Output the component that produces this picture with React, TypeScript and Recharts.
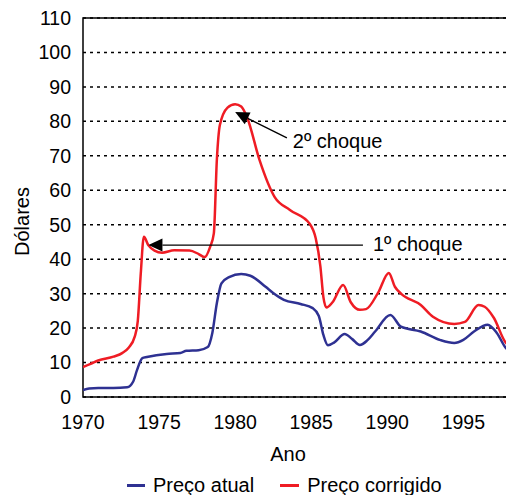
import React from 'react';
import {
  LineChart, Line, XAxis, YAxis, CartesianGrid, ReferenceArea, ReferenceLine,
} from 'recharts';

const FONT = '"Liberation Sans", Arial, Helvetica, sans-serif';

// Preço atual (nominal)
const atualYears = [
  1970.0, 1970.4, 1971.0, 1972.0, 1972.9, 1973.3, 1973.55, 1973.9, 1974.2, 1975.5,
  1976.4, 1976.8, 1977.6, 1978.2, 1978.5, 1978.8, 1979.1, 1979.6, 1980.4, 1981.0,
  1982.0, 1982.5, 1983.2, 1984.3, 1985.1, 1985.5, 1985.8, 1986.1, 1986.5, 1987.2,
  1987.7, 1988.2, 1988.7, 1989.2, 1990.2, 1990.9, 1992.2, 1993.5, 1994.4, 1995.0,
  1995.7, 1996.6, 1997.2, 1997.8, 1998.0,
];
const atualValues = [
  2.0, 2.5, 2.6, 2.6, 2.8, 4.5, 7.8, 11.3, 11.6, 12.5,
  12.8, 13.4, 13.6, 14.5, 18.6, 27.3, 33.0, 34.8, 35.7, 35.2,
  32.0, 30.2, 28.2, 27.0, 25.8, 23.5, 18.0, 15.0, 15.8, 18.3,
  16.8, 15.1, 16.5, 19.0, 23.8, 20.4, 19.0, 16.5, 15.7, 16.6,
  19.0, 21.0, 18.6, 14.2, 13.5,
];

// Preço corrigido (real)
const corrigidoYears = [
  1970.0, 1970.5, 1971.0, 1972.0, 1972.6, 1973.0, 1973.4, 1973.6, 1973.8, 1974.0,
  1974.3, 1974.7, 1975.2, 1976.0, 1977.0, 1977.6, 1978.0, 1978.35, 1978.6, 1978.8,
  1979.0, 1979.5, 1980.0, 1980.4, 1980.8, 1981.6, 1982.6, 1983.6, 1984.9, 1985.3,
  1985.6, 1985.8, 1986.0, 1986.4, 1987.1, 1987.6, 1988.2, 1988.6, 1989.4, 1990.1,
  1990.5, 1990.9, 1992.2, 1993.0, 1994.4, 1995.1, 1996.0, 1996.4, 1997.0, 1997.8,
  1998.0,
];
const corrigidoValues = [
  8.7, 9.6, 10.6, 11.7, 12.8, 14.3, 17.5, 22.0, 36.0, 46.5,
  44.0, 42.5, 41.9, 42.6, 42.5, 41.5, 40.6, 43.5, 47.5, 69.0,
  79.0, 84.0, 85.0, 84.3, 81.0, 68.8, 58.0, 54.3, 50.3, 46.0,
  38.0, 29.0, 26.0, 27.5, 32.5, 27.5, 25.3, 25.5, 30.3, 36.0,
  32.0, 30.0, 26.7, 23.3, 21.2, 21.8, 26.7, 26.2, 23.0, 15.7,
  15.0,
];

const xTicks = [1970, 1975, 1980, 1985, 1990, 1995];
const yTicks = [0, 10, 20, 30, 40, 50, 60, 70, 80, 90, 100, 110];

// annotation arrows: tip -> tail, in data units
const choqueLabels = ['1º choque', '2º choque'];
const choqueTips = [{ x: 1974.3, y: 44.1 }, { x: 1980.0, y: 82.7 }];
const choqueTails = [{ x: 1988.4, y: 44.1 }, { x: 1983.4, y: 75.2 }];
const choqueTextShift = [{ dx: 10, dy: 6 }, { dx: 6, dy: 10 }];

const atualData = atualYears.map((year, i) => ({ year, value: atualValues[i] }));
const corrigidoData = corrigidoYears.map((year, i) => ({ year, value: corrigidoValues[i] }));

const BLUE = '#2e3192';
const RED = '#ef1c24';

function arrowShape(text: string, dx: number, dy: number) {
  return (p: any) => {
    const { x1, y1, x2, y2 } = p;
    const ang = Math.atan2(y2 - y1, x2 - x1);
    const len = 14;
    const half = 6.5;
    const bx = x1 + Math.cos(ang) * len;
    const by = y1 + Math.sin(ang) * len;
    const px = -Math.sin(ang) * half;
    const py = Math.cos(ang) * half;
    return (
      <g>
        <line x1={bx} y1={by} x2={x2} y2={y2} stroke="#000" strokeWidth={1.3} />
        <polygon points={`${x1},${y1} ${bx + px},${by + py} ${bx - px},${by - py}`} fill="#000" />
        <text x={x2 + dx} y={y2 + dy} fontSize={20} fontFamily={FONT} fill="#000">{text}</text>
      </g>
    );
  };
}

function YLabel(props: any) {
  const { viewBox } = props;
  const cx = viewBox.x + 22;
  const cy = viewBox.y + viewBox.height / 2 + 14;
  return (
    <text x={cx} y={cy} transform={`rotate(-90 ${cx} ${cy})`} textAnchor="middle"
      dominantBaseline="central" fontSize={20} fontFamily={FONT} fill="#000">
      Dólares
    </text>
  );
}

function XLabel(props: any) {
  const { viewBox } = props;
  return (
    <text x={288} y={viewBox.y + 64} textAnchor="middle" fontSize={20} fontFamily={FONT} fill="#000">
      Ano
    </text>
  );
}

export default function App() {
  return (
    <div style={{ position: 'absolute', left: 0, top: 0, width: 506, height: 495, overflow: 'hidden', fontFamily: FONT, background: '#fff' }}>
      <LineChart width={512} height={495} margin={{ top: 18, right: 3, bottom: 0, left: 0 }}>
        <CartesianGrid horizontal vertical={false} stroke="#000" strokeWidth={1.5} strokeDasharray="3 4" />
        <XAxis
          type="number"
          dataKey="year"
          domain={[1970, 1998]}
          ticks={xTicks}
          allowDataOverflow
          height={98}
          tickLine={false}
          axisLine={false}
          tickSize={0}
          tickMargin={18}
          tick={{ fill: '#000', fontSize: 19.5, fontFamily: FONT }}
          label={<XLabel />}
        />
        <YAxis
          type="number"
          domain={[0, 110]}
          ticks={yTicks}
          width={83}
          tickLine={false}
          axisLine={false}
          tickSize={0}
          tickMargin={12}
          tick={{ fill: '#000', fontSize: 19.5, fontFamily: FONT }}
          label={<YLabel />}
        />
        <ReferenceArea x1={1970} x2={1998} y1={0} y2={110} fill="none" stroke="#000" strokeWidth={1.5} fillOpacity={0} />
        <Line data={atualData} dataKey="value" type="monotone" stroke={BLUE} strokeWidth={2.5}
          dot={false} activeDot={false} isAnimationActive={false} name="Preço atual" />
        <Line data={corrigidoData} dataKey="value" type="monotone" stroke={RED} strokeWidth={2.5}
          dot={false} activeDot={false} isAnimationActive={false} name="Preço corrigido" />
        {choqueLabels.map((lbl, i) => (
          <ReferenceLine
            key={lbl}
            segment={[choqueTips[i], choqueTails[i]]}
            ifOverflow="visible"
            shape={arrowShape(lbl, choqueTextShift[i].dx, choqueTextShift[i].dy)}
          />
        ))}
      </LineChart>
      {/* legend */}
      <div style={{ position: 'absolute', top: 474, left: 127, display: 'flex', alignItems: 'center', fontSize: 20, color: '#000', whiteSpace: 'nowrap' }}>
        <div style={{ width: 18, height: 3, background: BLUE, marginRight: 8 }} />
        <span>Preço atual</span>
        <div style={{ width: 19, height: 3, background: RED, marginLeft: 26, marginRight: 8 }} />
        <span>Preço corrigido</span>
      </div>
    </div>
  );
}
